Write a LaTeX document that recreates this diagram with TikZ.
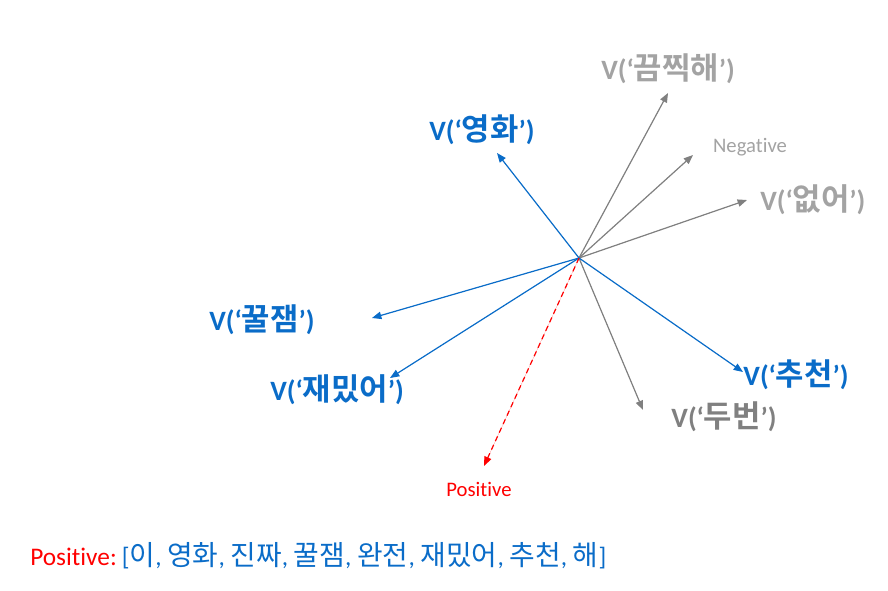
\documentclass[tikz,border=0pt]{standalone}
\usepackage{fontspec}
\setmainfont{Carlito}[Ligatures=NoCommon]
\newfontfamily\kr{Noto Sans CJK KR}[Scale=1.1,BoldFont={Noto Sans CJK KR Bold}]
\usetikzlibrary{arrows.meta}
\definecolor{vblue}{HTML}{0A6CC8}
\definecolor{vgray}{HTML}{808080}
\definecolor{lgray}{HTML}{A3A3A3}
\definecolor{dgray}{HTML}{808080}
\definecolor{vred}{HTML}{FF0000}
\newcommand\vlab[1]{V(‘{\kr #1}’)}
\begin{document}
\begin{tikzpicture}[x=0.75pt,y=-0.75pt,
  vec/.style={line width=0.9pt,-{Triangle[length=7pt,width=5.5pt]}},
  bluevec/.style={vec,draw=vblue,fill=vblue},
  grayvec/.style={vec,draw=vgray,fill=vgray},
  redvec/.style={vec,draw=vred,fill=vred,dash pattern=on 4pt off 3pt},
  biglab/.style={font=\fontsize{21}{24}\selectfont\bfseries,inner sep=0pt},
  smalllab/.style={font=\fontsize{15.5}{18}\selectfont,inner sep=0pt}]
\useasboundingbox (0,0) rectangle (888,590);
\coordinate (O) at (579,258);
\coordinate (tYH) at (497,153);
\coordinate (tKJ) at (668,93);
\coordinate (tNeg) at (693,155);
\coordinate (tEO) at (747,200);
\coordinate (tGJ) at (372,318);
\coordinate (tJM) at (390,378);
\coordinate (tCC) at (743,372);
\coordinate (tDB) at (643,410);
\coordinate (tPos) at (484,466);

\draw[grayvec] (O) -- (tKJ);
\draw[grayvec] (O) -- (tNeg);
\draw[grayvec] (O) -- (tEO);
\draw[grayvec] (O) -- (tDB);
\draw[bluevec] (O) -- (tYH);
\draw[bluevec] (O) -- (tGJ);
\draw[bluevec] (O) -- (tJM);
\draw[bluevec] (O) -- (tCC);
\draw[redvec] (O) -- (tPos);

\node[biglab,text=lgray] (lKJ) at (668,69) {\vlab{끔찍해}};
\node[biglab,text=vblue] (lYH) at (482,130) {\vlab{영화}};
\node[smalllab,text=lgray] (lNeg) at (750,147) {Negative};
\node[biglab,text=lgray,anchor=west] (lEO) at (760,200) {\vlab{없어}};
\node[biglab,text=vblue] (lGJ) at (262,320) {\vlab{꿀잼}};
\node[biglab,text=vblue] (lJM) at (337,390) {\vlab{재밌어}};
\node[biglab,text=vblue] (lCC) at (796,375) {\vlab{추천}};
\node[biglab,text=dgray] (lDB) at (724,417) {\vlab{두번}};
\node[smalllab,text=vred] (lPos) at (479,489) {Positive};

\node[anchor=west,inner sep=0pt,font=\fontsize{19}{22}\selectfont] (list) at (30,556)
  {\textcolor{vred}{Positive:}\hspace{0.2em}\textcolor{vblue}{[{\kr 이}, {\kr 영화}, {\kr 진짜}, {\kr 꿀잼}, {\kr 완전}, {\kr 재밌어}, {\kr 추천}, {\kr 해}]}};
\end{tikzpicture}
\end{document}
